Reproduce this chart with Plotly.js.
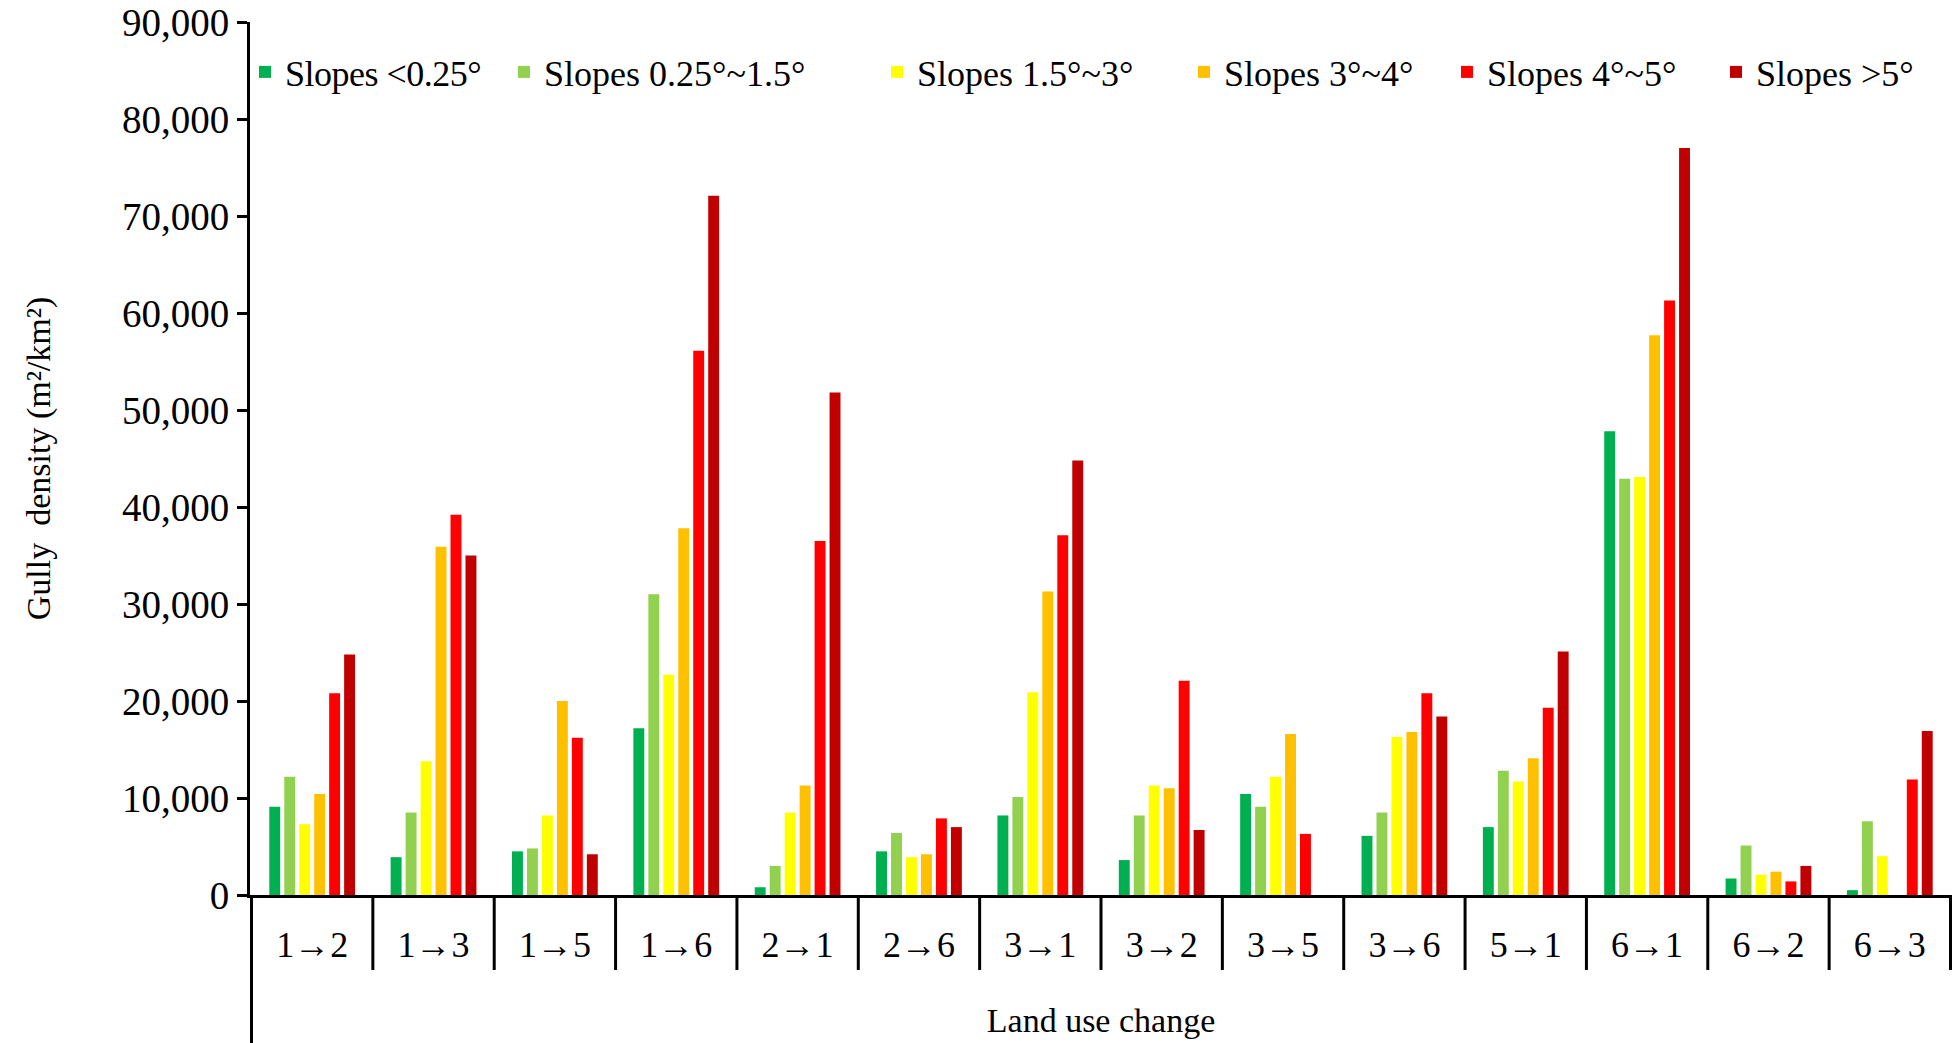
<!DOCTYPE html>
<html>
<head>
<meta charset="utf-8">
<script src="https://cdn.plot.ly/plotly-3.0.1.min.js"></script>
<style>
html,body{margin:0;padding:0;background:#fff;}
#chart{width:1955px;height:1043px;}
</style>
</head>
<body>
<div id="chart"></div>
<script>
const categories = ['1→2','1→3','1→5','1→6','2→1','2→6','3→1','3→2','3→5','3→6','5→1','6→1','6→2','6→3'];
const seriesNames = ['Slopes <0.25°','Slopes 0.25°~1.5°','Slopes 1.5°~3°','Slopes 3°~4°','Slopes 4°~5°','Slopes >5°'];
const seriesColors = ['#00B050','#92D050','#FFFF00','#FFC000','#FF0000','#C00000'];
const slopeLt025  = [9100, 3900, 4500, 17200,  800, 4500,  8200,  3600, 10400,  6100,  7000, 47800, 1700,   500];
const slope025to15 = [12200, 8500, 4800, 31000, 3000, 6400, 10100,  8200,  9100,  8500, 12800, 42900, 5100,  7600];
const slope15to3  = [7300, 13800, 8200, 22700, 8500, 3900, 20900, 11300, 12200, 16300, 11700, 43100, 2100,  4000];
const slope3to4   = [10400, 35900, 20000, 37800, 11300, 4200, 31300, 11000, 16600, 16800, 14100, 57700, 2400, null];
const slope4to5   = [20800, 39200, 16200, 56100, 36500, 7900, 37100, 22100,  6300, 20800, 19300, 61300, 1400, 11900];
const slopeGt5    = [24800, 35000, 4200, 72100, 51800, 7000, 44800,  6700,  null, 18400, 25100, 77000, 3000, 16900];
const seriesValues = [slopeLt025, slope025to15, slope15to3, slope3to4, slope4to5, slopeGt5];

const FONT = 'Liberation Serif, Times New Roman, serif';
const W = 1955, H = 1043;
const mL = 250, mR = 3, mT = 22, mB = 148;
const plotW = W - mL - mR, plotH = H - mT - mB;

// legend square left edges (px) and text letter-spacing for each series
const legendPx = [257, 516, 889, 1196, 1459, 1728];
const legendSpacing = [-0.5, 3.3, 5, 2.2, 2.7, 3.3];

// letter-spacing rules keyed on the legend text
const styleEl = document.createElement('style');
styleEl.textContent = seriesNames.map((n, i) =>
  'text.legendtext[data-unformatted="' + n.replace(/"/g, '\\"') + '"]{letter-spacing:' + legendSpacing[i] + 'px !important;}'
).join('\n');
document.head.appendChild(styleEl);

const traces = seriesValues.map((vals, i) => ({
  type: 'bar',
  name: seriesNames[i],
  x: categories,
  y: vals,
  marker: {color: seriesColors[i], line: {width: 0}},
  legend: i === 0 ? 'legend' : 'legend' + (i + 1),
  hoverinfo: 'x+y+name'
}));

const layout = {
  width: W, height: H,
  margin: {l: mL, r: mR, t: mT, b: mB},
  paper_bgcolor: '#fff', plot_bgcolor: '#fff',
  barmode: 'group',
  bargap: 0.26,
  bargroupgap: 0.27,
  font: {family: FONT, color: '#000'},
  showlegend: true,
  xaxis: {
    type: 'category',
    showline: true, linecolor: '#000', linewidth: 3,
    ticks: '', showgrid: false, zeroline: false,
    tickfont: {family: FONT, size: 36, color: '#000'},
    ticklabelstandoff: 16,
    title: {text: 'Land use change', font: {family: FONT, size: 34, color: '#000'}, standoff: 44},
    fixedrange: true
  },
  yaxis: {
    range: [0, 90000], dtick: 10000, tick0: 0,
    tickformat: ',d',
    showline: true, linecolor: '#000', linewidth: 3,
    ticks: 'outside', ticklen: 10, tickwidth: 3, tickcolor: '#000',
    showgrid: false, zeroline: false,
    tickfont: {family: FONT, size: 39, color: '#000'},
    ticklabeloverflow: 'allow',
    ticklabelstandoff: 0,
    title: {text: 'Gully&nbsp; density (m²/km²)', font: {family: FONT, size: 34, color: '#000'}, standoff: 62},
    fixedrange: true
  },
  shapes: []
};

// legends, one per series
legendPx.forEach((px, i) => {
  const key = i === 0 ? 'legend' : 'legend' + (i + 1);
  layout[key] = {
    orientation: 'h',
    x: (px - 12 - mL) / plotW, xanchor: 'left',
    y: (H - mB - 72) / plotH, yanchor: 'middle',
    bgcolor: 'rgba(0,0,0,0)', borderwidth: 0,
    font: {family: FONT, size: 36, color: '#000'},
    itemwidth: 30
  };
});

// category divider lines below the axis
const divBottom = -(970 - (H - mB)) / plotH;
for (let i = 0; i <= categories.length; i++) {
  layout.shapes.push({
    type: 'line', xref: 'x', yref: 'paper',
    x0: i - 0.5, x1: i - 0.5, y0: 0, y1: i === 0 ? -(H - (H - mB)) / plotH : divBottom,
    line: {color: '#000', width: 3}
  });
}

Plotly.newPlot('chart', traces, layout, {displayModeBar: false, staticPlot: true});
</script>
</body>
</html>
